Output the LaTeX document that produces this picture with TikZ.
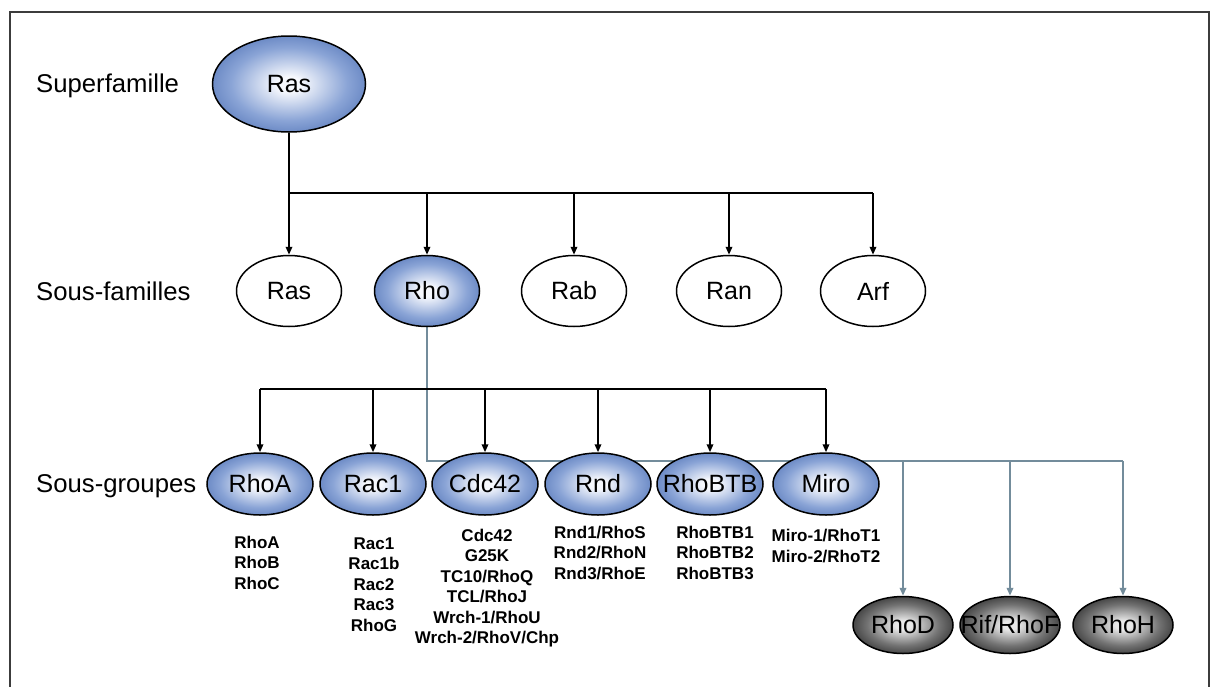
\documentclass[tikz,border=0pt]{standalone}
\usepackage{fontspec}
\setmainfont{Liberation Sans}
\usetikzlibrary{arrows.meta,shapes.geometric}
\definecolor{blin}{RGB}{246,248,253}
\definecolor{blmid}{RGB}{138,164,214}
\definecolor{blout}{RGB}{66,102,174}
\definecolor{bledge}{RGB}{52,86,156}
\definecolor{dkin}{RGB}{232,232,232}
\definecolor{dkmid}{RGB}{115,115,115}
\definecolor{dkout}{RGB}{22,22,22}
\definecolor{gline}{RGB}{115,140,155}
\definecolor{framec}{RGB}{60,60,60}
\pgfdeclareradialshading{blueball}{\pgfpoint{0bp}{0bp}}{color(0bp)=(blin); color(4bp)=(blin); color(19bp)=(blmid); color(34bp)=(blout); color(50bp)=(bledge)}
\pgfdeclareradialshading{darkball}{\pgfpoint{0bp}{0bp}}{color(0bp)=(dkin); color(4bp)=(dkin); color(18bp)=(dkmid); color(33bp)=(dkout); color(50bp)=(dkout)}
\pgfdeclarelayer{bg}
\pgfsetlayers{bg,main}
\newcommand\zwbox[1]{\makebox[0pt]{#1}}
\begin{document}
\begin{tikzpicture}[x=1pt,y=-1pt,
  ell/.style={ellipse, draw=black, line width=1.5pt, inner sep=0pt, font=\fontsize{25}{30}\selectfont},
  supell/.style={ell, shading=blueball, minimum width=153pt, minimum height=96pt},
  famell/.style={ell, fill=white, minimum width=105pt, minimum height=71pt},
  famblue/.style={ell, shading=blueball, minimum width=105pt, minimum height=71pt},
  grpell/.style={ell, shading=blueball, minimum width=106pt, minimum height=62pt},
  darkell/.style={ell, shading=darkball, minimum width=100pt, minimum height=57pt},
  rowlbl/.style={inner sep=0pt, font=\fontsize{25.7}{30}\selectfont, anchor=base west},
  lst/.style={inner sep=0pt, align=center, anchor=north, font=\bfseries\fontsize{17}{20.5}\selectfont},
  blk/.style={draw=black, line width=1.8pt},
  blkarr/.style={blk, -{Triangle[length=8pt,width=6.5pt]}},
  gry/.style={draw=gline, line width=2.4pt},
  gryarr/.style={gry, -{Triangle[length=8pt,width=6.5pt]}},
  frame/.style={draw=framec, line width=1.5pt}]
\useasboundingbox (0,0) rectangle (1215,686);
\begin{pgfonlayer}{bg}
\fill[white] (0,0) rectangle (1215,686);
\end{pgfonlayer}
\draw[frame] (10,690) -- (10,12) -- (1209,12) -- (1209,690);
% row labels
\node[rowlbl] (l1) at (36,92) {Superfamille};
\node[rowlbl] (l2) at (36,300) {Sous-familles};
\node[rowlbl] (l3) at (36,492) {Sous-groupes};
% superfamily
\node[supell] (sup) at (289,84) {\zwbox{Ras}};
% subfamilies
\node[famell] (fras) at (289,291) {\zwbox{Ras}};
\node[famblue] (frho) at (427,291) {\zwbox{Rho}};
\node[famell] (frab) at (574,291) {\zwbox{Rab}};
\node[famell] (fran) at (729,291) {\zwbox{Ran}};
\node[famell] (farf) at (873,291) {\zwbox{Arf}};
% subgroups
\node[grpell] (grhoa) at (260,484) {\zwbox{RhoA}};
\node[grpell] (grac) at (373,484) {\zwbox{Rac1}};
\node[grpell] (gcdc) at (485,484) {\zwbox{Cdc42}};
\node[grpell] (grnd) at (598,484) {\zwbox{Rnd}};
\node[grpell] (gbtb) at (710,484) {\zwbox{RhoBTB}};
\node[grpell] (gmiro) at (826,484) {\zwbox{Miro}};
% atypical
\node[darkell] (dD) at (903,625) {\zwbox{RhoD}};
\node[darkell] (dF) at (1010,625) {\zwbox{Rif/RhoF}};
\node[darkell] (dH) at (1123,625) {\zwbox{RhoH}};
% member lists
\node[lst] (lrhoa) at (257,535.5) {RhoA\\RhoB\\RhoC};
\node[lst] (lrac) at (374,537.5) {Rac1\\Rac1b\\Rac2\\Rac3\\RhoG};
\node[lst] (lcdc) at (487,528.5) {Cdc42\\G25K\\TC10/RhoQ\\TCL/RhoJ\\Wrch-1/RhoU\\Wrch-2/RhoV/Chp};
\node[lst] (lrnd) at (600,525.5) {Rnd1/RhoS\\Rnd2/RhoN\\Rnd3/RhoE};
\node[lst] (lbtb) at (715,525.5) {RhoBTB1\\RhoBTB2\\RhoBTB3};
\node[lst] (lmiro) at (826,529) {Miro-1/RhoT1\\Miro-2/RhoT2};
% connectors
\coordinate (ty) at (0,193);
\coordinate (by) at (0,389);
\coordinate (gy) at (0,461);
\draw[blk] (sup.south) -- (sup.south |- ty) -- (farf |- ty);
\foreach \n in {fras,frho,frab,fran,farf} \draw[blkarr] (\n |- ty) -- (\n.north);
\begin{pgfonlayer}{bg}
\draw[gry] (frho.south) -- (frho.south |- gy) -- (dH |- gy);
\end{pgfonlayer}
\foreach \n in {dD,dF,dH} \draw[gryarr] (\n |- gy) -- (\n.north);
\draw[blk] (grhoa |- by) -- (gmiro |- by);
\foreach \n in {grhoa,grac,gcdc,grnd,gbtb,gmiro} \draw[blkarr] (\n |- by) -- (\n.north);
\end{tikzpicture}
\end{document}
